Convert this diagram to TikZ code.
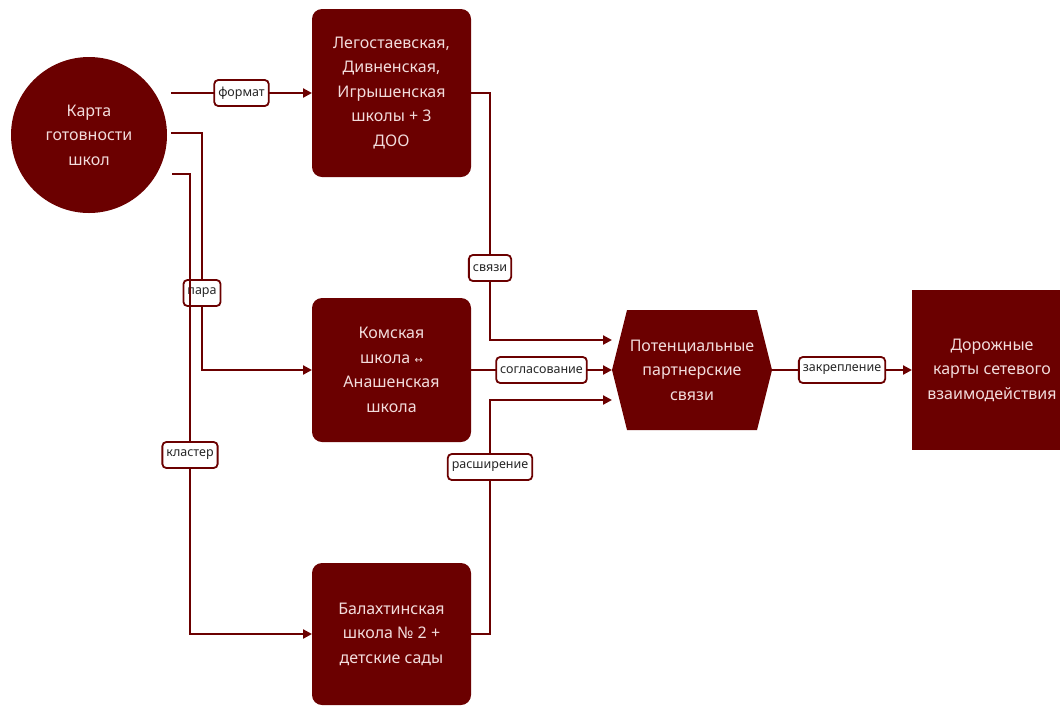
\documentclass[tikz,border=0pt]{standalone}
\usepackage{fontspec}
\setmainfont{Noto Sans}
\newfontfamily\arrfont{DejaVu Sans}
\usetikzlibrary{shapes,arrows.meta}
\definecolor{boxred}{HTML}{6B0000}
\definecolor{boxtext}{HTML}{F2DCDC}
\definecolor{labtext}{HTML}{262626}
\tikzset{
	block/.style={fill=boxred,text=boxtext,align=center,font=\fontsize{16}{24.5}\selectfont,outer sep=0pt},
	school/.style={block,rounded corners=10pt,minimum width=159pt},
	link/.style={draw=boxred,line width=2.2pt,-{Triangle[length=9pt,width=9pt]}},
	lab/.style={draw=boxred,line width=1.8pt,fill=white,rounded corners=4pt,text=labtext,font=\fontsize{12.5}{13}\selectfont,inner xsep=4pt,minimum height=26pt}
}

\begin{document}
\begin{tikzpicture}[x=1pt,y=-1pt]
	\useasboundingbox (0,0) rectangle (1060,705);
	\node[block,circle,minimum size=156pt,inner sep=0pt] (karta) at (89,135) {Карта\\готовности\\школ};
	\node[school,minimum height=168pt] (leg) at (391.5,93) {Легостаевская,\\Дивненская,\\Игрышенская\\школы + 3\\ДОО};
	\node[school,minimum height=144pt] (kom) at (391.5,370) {Комская\\школа {\arrfont\fontsize{10}{10}\selectfont ↔}\\Анашенская\\школа};
	\node[school,minimum height=142pt] (bal) at (391.5,634) {Балахтинская\\школа № 2 +\\детские сады};
	\fill[boxred] (612,370) -- ++(15,-60) -- ++(130,0) -- ++(15,60) -- ++(-15,60) -- ++(-130,0) -- cycle;
	\node[block,fill=none,minimum width=160pt,minimum height=120pt] (pot) at (692,370) {Потенциальные\\партнерские\\связи};
	\node[block,minimum width=160pt,minimum height=160pt] (dor) at (992,370) {Дорожные\\карты сетевого\\взаимодействия};

	\draw[link] ([shift={(4,-42)}]karta.east) -- node[lab]{формат} (leg.west);
	\draw[link] ([shift={(4,-2)}]karta.east) -- ++(31,0) -- ++(0,160) node[lab]{пара} |- (kom.west);
	\draw[link] ([shift={(5,39)}]karta.east) -- ++(18,0) -- ++(0,281) node[lab]{кластер} |- (bal.west);
	\draw[link] (leg.east) -- ++(19,0) -- ++(0,175) node[lab]{связи} |- ([yshift=30pt]pot.west);
	\draw[link] (kom.east) -- node[lab]{согласование} (pot.west);
	\draw[link] (bal.east) -- ++(19,0) -- ++(0,-167) node[lab]{расширение} |- ([yshift=-30pt]pot.west);
	\draw[link] (pot.east) -- node[lab]{закрепление} (dor.west);
\end{tikzpicture}
\end{document}
